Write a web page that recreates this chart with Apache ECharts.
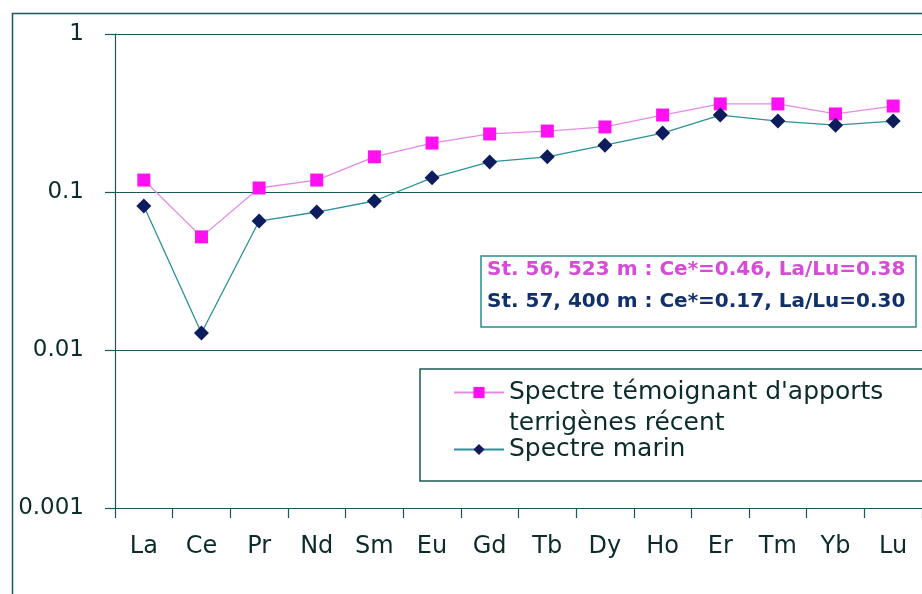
<!DOCTYPE html>
<html>
<head>
<meta charset="utf-8">
<script src="https://cdn.jsdelivr.net/npm/echarts@6/dist/echarts.min.js"></script>
<style>
html,body{margin:0;padding:0;background:#fff;}
#chart{width:922px;height:594px;}
</style>
</head>
<body>
<div id="chart"></div>
<script>
const categories = ['La','Ce','Pr','Nd','Sm','Eu','Gd','Tb','Dy','Ho','Er','Tm','Yb','Lu'];
const terrigene = [0.119,0.052,0.106,0.119,0.167,0.204,0.233,0.243,0.258,0.307,0.361,0.361,0.312,0.350];
const marin = [0.0815,0.0128,0.0655,0.0747,0.0877,0.123,0.155,0.167,0.198,0.236,0.307,0.281,0.265,0.281];
const seriesNames = ["Spectre témoignant d'apports\nterrigènes récent", 'Spectre marin'];
const annotations = ['St. 56, 523 m : Ce*=0.46, La/Lu=0.38', 'St. 57, 400 m : Ce*=0.17, La/Lu=0.30'];

const lineCol = '#1d5858';
const textCol = '#0c2c2c';
const font = 'DejaVu Sans';

const chart = echarts.init(document.getElementById('chart'), null, {renderer:'canvas'});
chart.setOption({
  animation: false,
  backgroundColor: '#fff',
  grid: {left: 115, top: 34, width: 820, height: 474, containLabel: false},
  xAxis: {
    type: 'category',
    data: categories,
    boundaryGap: true,
    axisLine: {show: true, lineStyle: {color: lineCol, width: 1.2}},
    axisTick: {show: true, length: 10, interval: 0, lineStyle: {color: lineCol, width: 1.2}},
    axisLabel: {color: textCol, fontFamily: font, fontSize: 24, margin: 27, interval: 0}
  },
  yAxis: {
    type: 'log',
    logBase: 10,
    min: 0.001,
    max: 1,
    axisLine: {show: true, lineStyle: {color: lineCol, width: 1.2}},
    axisTick: {show: true, length: 10, lineStyle: {color: lineCol, width: 1.2}},
    splitLine: {show: true, lineStyle: {color: lineCol, width: 1.2}},
    minorTick: {show: false},
    axisLabel: {color: textCol, fontFamily: font, fontSize: 23, margin: 31,
      formatter: v => String(+(+v).toPrecision(1))}
  },
  legend: {
    orient: 'vertical',
    left: 453,
    top: 346,
    padding: 0,
    itemWidth: 50,
    itemHeight: 14,
    itemGap: -5,
    formatter: name => (name === seriesNames[0] ? '\n' + name : name),
    textStyle: {color: textCol, fontFamily: font, fontSize: 25, lineHeight: 31},
    data: seriesNames
  },
  graphic: [
    {type: 'rect', left: 10, top: 11, z: -10, silent: true,
      shape: {x: 0, y: 0, width: 940, height: 620},
      style: {fill: 'none', stroke: lineCol, lineWidth: 1.5}},
    {type: 'rect', z: 50, silent: true,
      shape: {x: 481, y: 256, width: 435, height: 71},
      style: {fill: '#fff', stroke: '#2a8c8c', lineWidth: 1.5}},
    {type: 'text', z: 51, x: 487, y: 270, silent: true,
      style: {text: annotations[0], fill: '#d84ad8', font: 'bold 20px "DejaVu Sans"', verticalAlign: 'middle'}},
    {type: 'text', z: 51, x: 487, y: 302, silent: true,
      style: {text: annotations[1], fill: '#12306a', font: 'bold 20px "DejaVu Sans"', verticalAlign: 'middle'}},
    {type: 'rect', z: 1, silent: true,
      shape: {x: 420, y: 369, width: 520, height: 112},
      style: {fill: '#fff', stroke: lineCol, lineWidth: 1.5}}
  ],
  series: [
    {
      name: seriesNames[0],
      type: 'line',
      data: terrigene,
      symbol: 'rect',
      symbolSize: 13,
      itemStyle: {color: '#ff10f0'},
      lineStyle: {color: '#e58ae5', width: 1.3},
      z: 3
    },
    {
      name: seriesNames[1],
      type: 'line',
      data: marin,
      symbol: 'diamond',
      symbolSize: 15,
      itemStyle: {color: '#0c1c5c'},
      lineStyle: {color: '#2a9298', width: 1.3},
      z: 4
    }
  ]
});
</script>
</body>
</html>
